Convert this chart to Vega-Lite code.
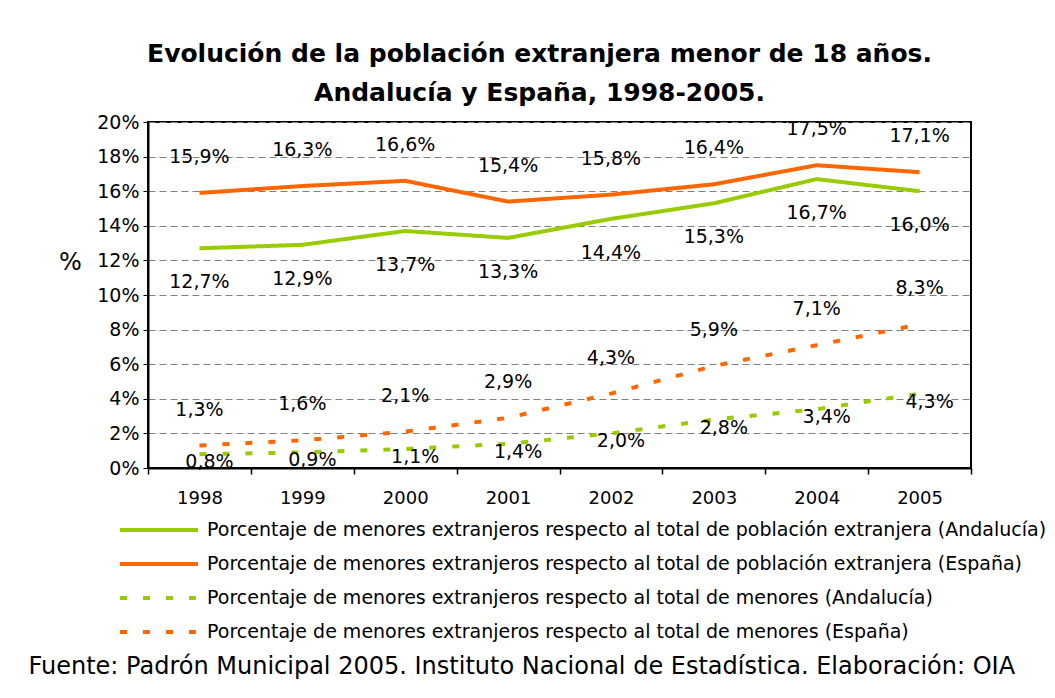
{
  "$schema": "https://vega.github.io/schema/vega-lite/v6.json",
  "width": 823,
  "height": 346,
  "autosize": {"type": "none"},
  "padding": {"left": 148, "top": 122, "right": 84, "bottom": 230},
  "background": "white",
  "config": {
    "font": "DejaVu Sans",
    "locale": {"number": {"decimal": ",", "thousands": ".", "grouping": [3], "currency": ["", " €"]}},
    "view": {"stroke": "black", "strokeWidth": 2}
  },
  "title": {
    "text": ["Evolución de la población extranjera menor de 18 años.", "Andalucía y España, 1998-2005."],
    "fontSize": 25,
    "fontWeight": "bold",
    "lineHeight": 39,
    "anchor": "middle",
    "frame": "group",
    "dx": -20,
    "offset": 7,
    "color": "black"
  },
  "data": {
    "values": [
      {"year": "1998", "serie": "A", "value": 0.127},
      {"year": "1999", "serie": "A", "value": 0.129},
      {"year": "2000", "serie": "A", "value": 0.137},
      {"year": "2001", "serie": "A", "value": 0.133},
      {"year": "2002", "serie": "A", "value": 0.144},
      {"year": "2003", "serie": "A", "value": 0.153},
      {"year": "2004", "serie": "A", "value": 0.167},
      {"year": "2005", "serie": "A", "value": 0.160},
      {"year": "1998", "serie": "B", "value": 0.159},
      {"year": "1999", "serie": "B", "value": 0.163},
      {"year": "2000", "serie": "B", "value": 0.166},
      {"year": "2001", "serie": "B", "value": 0.154},
      {"year": "2002", "serie": "B", "value": 0.158},
      {"year": "2003", "serie": "B", "value": 0.164},
      {"year": "2004", "serie": "B", "value": 0.175},
      {"year": "2005", "serie": "B", "value": 0.171},
      {"year": "1998", "serie": "C", "value": 0.008},
      {"year": "1999", "serie": "C", "value": 0.009},
      {"year": "2000", "serie": "C", "value": 0.011},
      {"year": "2001", "serie": "C", "value": 0.014},
      {"year": "2002", "serie": "C", "value": 0.020},
      {"year": "2003", "serie": "C", "value": 0.028},
      {"year": "2004", "serie": "C", "value": 0.034},
      {"year": "2005", "serie": "C", "value": 0.043},
      {"year": "1998", "serie": "D", "value": 0.013},
      {"year": "1999", "serie": "D", "value": 0.016},
      {"year": "2000", "serie": "D", "value": 0.021},
      {"year": "2001", "serie": "D", "value": 0.029},
      {"year": "2002", "serie": "D", "value": 0.043},
      {"year": "2003", "serie": "D", "value": 0.059},
      {"year": "2004", "serie": "D", "value": 0.071},
      {"year": "2005", "serie": "D", "value": 0.083}
    ]
  },
  "transform": [
    {"lookup": "serie", "from": {"data": {"values": [
      {"serie": "A", "nombre": "Porcentaje de menores extranjeros respecto al total de población extranjera (Andalucía)"},
      {"serie": "B", "nombre": "Porcentaje de menores extranjeros respecto al total de población extranjera (España)"},
      {"serie": "C", "nombre": "Porcentaje de menores extranjeros respecto al total de menores (Andalucía)"},
      {"serie": "D", "nombre": "Porcentaje de menores extranjeros respecto al total de menores (España)"}
    ]}, "key": "serie", "fields": ["nombre"]}}
  ],
  "encoding": {
    "x": {
      "field": "year",
      "type": "ordinal",
      "bandPosition": 0.5,
      "scale": {"type": "band", "paddingInner": 0, "paddingOuter": 0},
      "axis": {
        "title": "Fuente: Padrón Municipal 2005. Instituto Nacional de Estadística. Elaboración: OIA",
        "titleX": -120,
        "titleY": 205,
        "titleAlign": "left",
        "titleBaseline": "alphabetic",
        "titleFontSize": 24,
        "titleFontWeight": "normal",
        "titleColor": "black",
        "labelAngle": 0,
        "labelFontSize": 18,
        "labelColor": "black",
        "labelPadding": 15,
        "tickBand": "extent",
        "tickColor": "black",
        "tickSize": 6,
        "tickWidth": 1.5,
        "domainColor": "black",
        "domainWidth": 2,
        "grid": false
      }
    },
    "y": {
      "field": "value",
      "type": "quantitative",
      "scale": {"domain": [0, 0.2], "nice": false},
      "axis": {
        "format": ".0%",
        "values": [0, 0.02, 0.04, 0.06, 0.08, 0.1, 0.12, 0.14, 0.16, 0.18, 0.2],
        "labelFontSize": 19,
        "labelColor": "black",
        "labelPadding": 4,
        "grid": true,
        "gridDash": [7, 4],
        "gridColor": "#808080",
        "gridWidth": 1,
        "title": "%",
        "titleAngle": 0,
        "titleX": -78,
        "titleY": 140,
        "titleFontSize": 24,
        "titleFontWeight": "normal",
        "titleBaseline": "middle",
        "titleAlign": "center",
        "titleColor": "black",
        "tickColor": "black",
        "tickSize": 5,
        "domainColor": "black",
        "domainWidth": 2
      }
    }
  },
  "layer": [
    {
      "mark": {"type": "line", "strokeWidth": 4, "strokeCap": "butt"},
      "encoding": {
        "color": {
          "field": "nombre",
          "type": "nominal",
          "scale": {
            "domain": [
              "Porcentaje de menores extranjeros respecto al total de población extranjera (Andalucía)",
              "Porcentaje de menores extranjeros respecto al total de población extranjera (España)",
              "Porcentaje de menores extranjeros respecto al total de menores (Andalucía)",
              "Porcentaje de menores extranjeros respecto al total de menores (España)"
            ],
            "range": ["#99CC00", "#FF6600", "#99CC00", "#FF6600"]
          },
          "legend": {
            "orient": "none",
            "legendX": -4,
            "legendY": 393,
            "title": null,
            "padding": 0,
            "symbolType": "M-3,0H3",
            "symbolSize": 676,
            "symbolStrokeWidth": 4,
            "symbolFillColor": "transparent",
            "labelFontSize": 19,
            "labelColor": "black",
            "labelLimit": 1000,
            "labelOffset": 33,
            "rowPadding": 9
          }
        },
        "strokeDash": {
          "field": "nombre",
          "type": "nominal",
          "scale": {
            "domain": [
              "Porcentaje de menores extranjeros respecto al total de población extranjera (Andalucía)",
              "Porcentaje de menores extranjeros respecto al total de población extranjera (España)",
              "Porcentaje de menores extranjeros respecto al total de menores (Andalucía)",
              "Porcentaje de menores extranjeros respecto al total de menores (España)"
            ],
            "range": [[1, 0], [1, 0], [7, 16], [7, 16]]
          },
          "legend": {
            "orient": "none",
            "legendX": -4,
            "legendY": 393,
            "title": null,
            "padding": 0,
            "symbolType": "M-3,0H3",
            "symbolSize": 676,
            "symbolStrokeWidth": 4,
            "symbolFillColor": "transparent",
            "labelFontSize": 19,
            "labelColor": "black",
            "labelLimit": 1000,
            "labelOffset": 33,
            "rowPadding": 9
          }
        }
      }
    },
    {
      "transform": [{"filter": "datum.serie === 'A'"}],
      "mark": {"type": "text", "fontSize": 19, "color": "black", "dy": 34},
      "encoding": {"text": {"field": "value", "type": "quantitative", "format": ".1%"}}
    },
    {
      "transform": [{"filter": "datum.serie === 'B'"}],
      "mark": {"type": "text", "fontSize": 19, "color": "black", "dy": -36},
      "encoding": {"text": {"field": "value", "type": "quantitative", "format": ".1%"}}
    },
    {
      "transform": [{"filter": "datum.serie === 'C'"}],
      "mark": {"type": "text", "fontSize": 19, "color": "black", "dy": 8, "dx": 10},
      "encoding": {"text": {"field": "value", "type": "quantitative", "format": ".1%"}}
    },
    {
      "transform": [{"filter": "datum.serie === 'D'"}],
      "mark": {"type": "text", "fontSize": 19, "color": "black", "dy": -36},
      "encoding": {"text": {"field": "value", "type": "quantitative", "format": ".1%"}}
    }
  ]
}
